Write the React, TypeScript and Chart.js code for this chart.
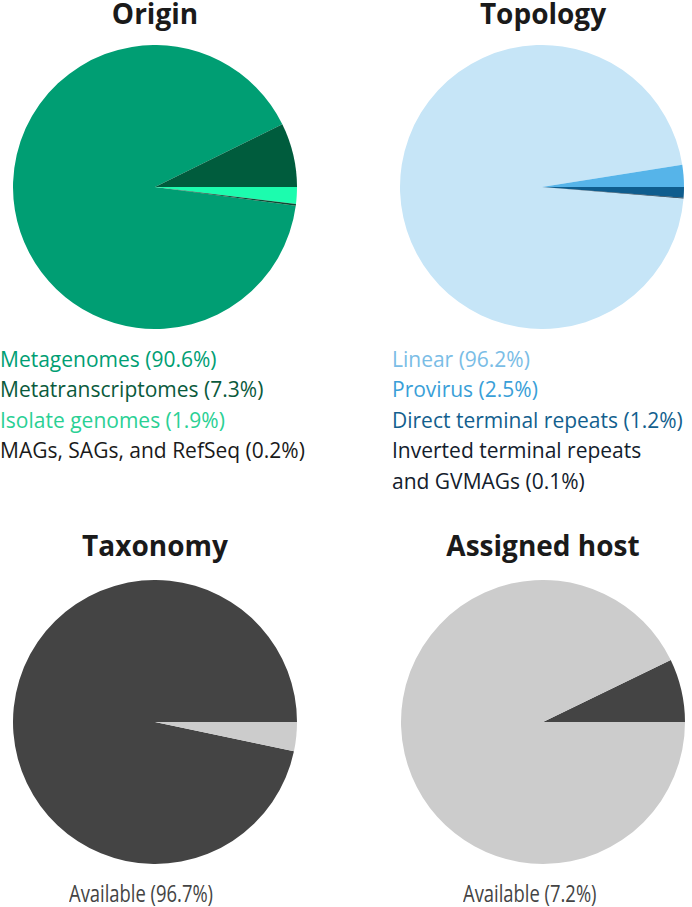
import React, { useEffect, useRef } from 'react';
import { Chart, registerables } from 'chart.js';

Chart.register(...registerables);

// ---- Data ----
const originLabels = ['Metagenomes', 'Metatranscriptomes', 'Isolate genomes', 'MAGs, SAGs, and RefSeq'];
const originValues = [90.6, 7.3, 1.9, 0.2];
const originColors = ['#009E73', '#005C3D', '#1CFCAE', '#0C4A33'];
const originTextColors = ['#009E73', '#0A5A3C', '#2AD094', '#1A1A1A'];

const topologyLabels = ['Linear', 'Provirus', 'Direct terminal repeats', 'Inverted terminal repeats\nand GVMAGs'];
const topologyValues = [96.2, 2.5, 1.2, 0.1];
const topologyColors = ['#C6E5F7', '#56B4E9', '#0F5D8E', '#0B2A40'];
const topologyTextColors = ['#7ABDE6', '#3A9FD8', '#135F8E', '#13202C'];

const taxonomyLabels = ['Available', 'Unavailable'];
const taxonomyValues = [96.7, 3.3];
const taxonomyColors = ['#444444', '#CCCCCC'];

const hostLabels = ['Available', 'Unavailable'];
const hostValues = [7.2, 92.8];
const hostColors = ['#444444', '#CCCCCC'];

const FONT = '"Open Sans", "Noto Sans", sans-serif';
const SIZE = 284;

type PieProps = {
  labels: string[];
  values: number[];
  colors: string[];
  rotation: number;
  left: number;
  top: number;
};

function Pie({ labels, values, colors, rotation, left, top }: PieProps) {
  const ref = useRef<HTMLCanvasElement | null>(null);
  useEffect(() => {
    if (!ref.current) return;
    const chart = new Chart(ref.current, {
      type: 'pie',
      data: {
        labels,
        datasets: [
          {
            data: values,
            backgroundColor: colors,
            borderWidth: 0,
          },
        ],
      },
      options: {
        responsive: false,
        animation: false,
        rotation,
        layout: { padding: 0 },
        plugins: {
          legend: { display: false },
          tooltip: { enabled: false },
          title: { display: false },
        },
      },
    });
    return () => chart.destroy();
  }, []);
  return (
    <canvas
      ref={ref}
      width={SIZE}
      height={SIZE}
      style={{ position: 'absolute', left, top, width: SIZE, height: SIZE }}
    />
  );
}

function Title({ text, cx, top }: { text: string; cx: number; top: number }) {
  return (
    <div
      style={{
        position: 'absolute',
        left: cx - 150,
        top,
        width: 300,
        textAlign: 'center',
        fontFamily: FONT,
        fontWeight: 700,
        fontSize: 28,
        lineHeight: '28px',
        color: '#1a1a1a',
      }}
    >
      {text}
    </div>
  );
}

function Legend({
  labels,
  values,
  colors,
  left,
  top,
}: {
  labels: string[];
  values: number[];
  colors: string[];
  left: number;
  top: number;
}) {
  return (
    <div
      style={{
        position: 'absolute',
        left,
        top,
        fontFamily: FONT,
        fontSize: 21,
        lineHeight: '30.5px',
        whiteSpace: 'pre-line',
      }}
    >
      {labels.map((l, i) => (
        <div key={i} style={{ color: colors[i] }}>
          {`${l} (${values[i]}%)`}
        </div>
      ))}
    </div>
  );
}

function Caption({ text, left, top }: { text: string; left: number; top: number }) {
  return (
    <div
      style={{
        position: 'absolute',
        left,
        top,
        fontFamily: FONT,
        fontSize: 23,
        lineHeight: '23px',
        color: '#444444',
        whiteSpace: 'nowrap',
        transform: 'scaleX(0.8)',
        transformOrigin: 'left top',
      }}
    >
      {text}
    </div>
  );
}

export default function App() {
  return (
    <div
      style={{
        position: 'absolute',
        left: 0,
        top: 0,
        width: 692,
        height: 907,
        background: '#ffffff',
        overflow: 'hidden',
      }}
    >
      <Title text="Origin" cx={155} top={-1.5} />
      <Title text="Topology" cx={543} top={-1.5} />
      <Title text="Taxonomy" cx={155} top={531} />
      <Title text="Assigned host" cx={543} top={531} />

      <Pie labels={originLabels} values={originValues} colors={originColors} rotation={97.56} left={13} top={45} />
      <Pie labels={topologyLabels} values={topologyValues} colors={topologyColors} rotation={94.68} left={400} top={45} />
      <Pie labels={taxonomyLabels} values={taxonomyValues} colors={taxonomyColors} rotation={101.88} left={13} top={580} />
      <Pie labels={hostLabels} values={hostValues} colors={hostColors} rotation={64.08} left={401} top={580} />

      <Legend labels={originLabels} values={originValues} colors={originTextColors} left={0} top={343.5} />
      <Legend labels={topologyLabels} values={topologyValues} colors={topologyTextColors} left={392} top={343.5} />

      <Caption text={`${taxonomyLabels[0]} (${taxonomyValues[0]}%)`} left={69} top={881.5} />
      <Caption text={`${hostLabels[0]} (${hostValues[0]}%)`} left={463} top={881.5} />
    </div>
  );
}
